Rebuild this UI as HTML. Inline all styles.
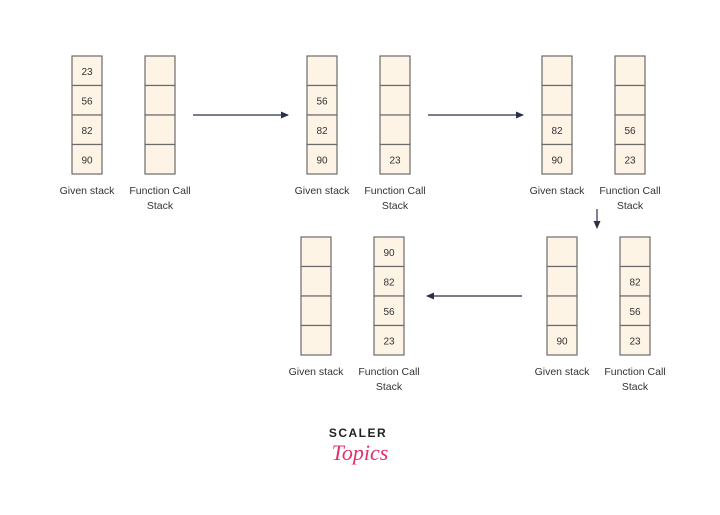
<!DOCTYPE html>
<html><head><meta charset="utf-8"><style>
html,body{margin:0;padding:0;background:#fff;width:720px;height:515px;overflow:hidden}
svg{display:block}
text{font-family:"Liberation Sans",sans-serif;fill:#333}
</style></head><body>
<svg id="s" width="720" height="515" viewBox="0 0 720 515">
<defs><marker id="ah" markerWidth="8" markerHeight="8" refX="7" refY="4" orient="auto" markerUnits="userSpaceOnUse"><path d="M0,0.5 L8,4 L0,7.5Z" fill="#2b2f4a"/></marker></defs>
<g stroke="#2b2f4a" stroke-width="1.2" fill="none">
<line x1="193" y1="115" x2="288" y2="115" marker-end="url(#ah)"/>
<line x1="428" y1="115" x2="523" y2="115" marker-end="url(#ah)"/>
<line x1="597" y1="209" x2="597" y2="228" marker-end="url(#ah)"/>
<line x1="522" y1="296" x2="427" y2="296" marker-end="url(#ah)"/>
</g>
<text x="358" y="437" text-anchor="middle" style="font-size:12px;font-weight:bold;letter-spacing:1.5px;fill:#222">SCALER</text>
<text x="360" y="460" text-anchor="middle" style="font-family:'Liberation Serif',serif;font-style:italic;font-size:22px;fill:#e0306e">Topics</text>
</svg>
<script>
var s=document.getElementById('s'),ns='http://www.w3.org/2000/svg';
function el(t,a,txt){var e=document.createElementNS(ns,t);for(var k in a)e.setAttribute(k,a[k]);if(txt)e.textContent=txt;s.appendChild(e);return e;}
function stack(x,y,vals){var h=29.5;for(var i=0;i<4;i++){el('rect',{x:x,y:y+i*h,width:30,height:h,fill:'#fdf4e6',stroke:'#6b6b6b','stroke-width':1.2});if(vals[i])el('text',{x:x+15,y:y+i*h+19,'text-anchor':'middle',style:'font-size:10px'},vals[i]);}}
function set(gx,fx,y,g,f){stack(gx,y,g);stack(fx,y,f);var ly=y+138;el('text',{x:gx+15,y:ly,'text-anchor':'middle',style:'font-size:10.5px'},'Given stack');el('text',{x:fx+15,y:ly,'text-anchor':'middle',style:'font-size:10.5px'},'Function Call');el('text',{x:fx+15,y:ly+15,'text-anchor':'middle',style:'font-size:10.5px'},'Stack');}
set(72,145,56,['23','56','82','90'],['','','','']);
set(307,380,56,['','56','82','90'],['','','','23']);
set(542,615,56,['','','82','90'],['','','56','23']);
set(301,374,237,['','','',''],['90','82','56','23']);
set(547,620,237,['','','','90'],['','82','56','23']);
</script>
</body></html>
